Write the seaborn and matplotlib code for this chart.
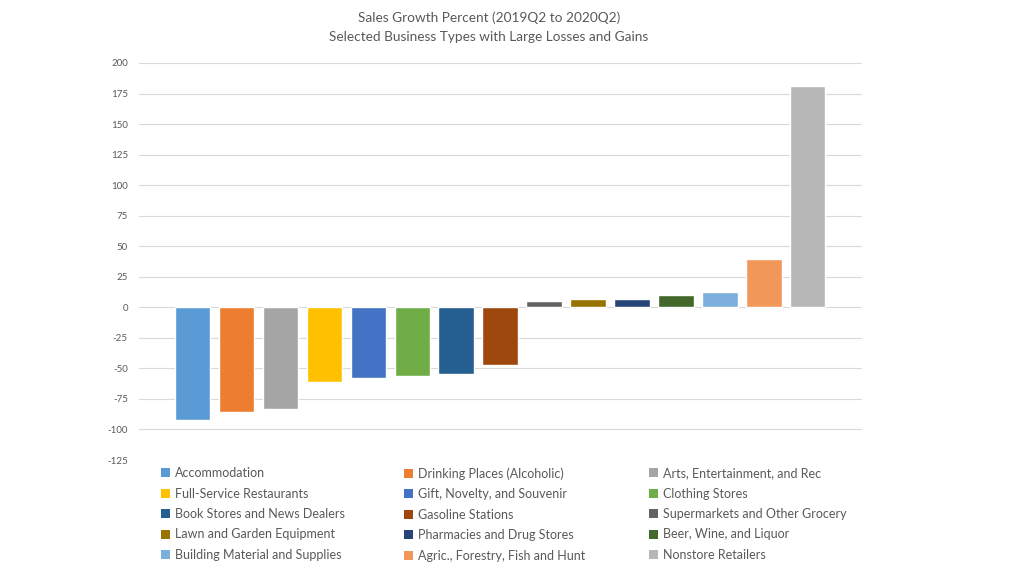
import matplotlib
matplotlib.use("Agg")
import matplotlib.pyplot as plt
from matplotlib.patches import Patch
import seaborn as sns
import pandas as pd

categories = [
    "Accommodation", "Drinking Places (Alcoholic)", "Arts, Entertainment, and Rec",
    "Full-Service Restaurants", "Gift, Novelty, and Souvenir", "Clothing Stores",
    "Book Stores and News Dealers", "Gasoline Stations", "Supermarkets and Other Grocery",
    "Lawn and Garden Equipment", "Pharmacies and Drug Stores", "Beer, Wine, and Liquor",
    "Building Material and Supplies", "Agric., Forestry, Fish and Hunt", "Nonstore Retailers",
]
growth = [-92, -86, -83, -61.5, -58, -56, -55, -47.5, 5, 7, 7, 10, 12.5, 39.5, 181]
colors = [
    "#5B9BD5", "#ED7D31", "#A5A5A5", "#FFC000", "#4472C4", "#70AD47",
    "#255E91", "#9E480E", "#636363", "#997300", "#264478", "#43682B",
    "#7CAFDD", "#F1975A", "#B7B7B7",
]
yticks = [-125, -100, -75, -50, -25, 0, 25, 50, 75, 100, 125, 150, 175, 200]

sns.set_theme(style="white")
plt.rcParams["font.family"] = ["Lato", "DejaVu Sans"]

df = pd.DataFrame({"cat": categories, "val": growth})

fig = plt.figure(figsize=(10.24, 5.76), dpi=100)
ax = fig.add_axes([139 / 1024, 1 - 460 / 576, (862 - 139) / 1024, (460 - 63) / 576])

sns.barplot(data=df, x="cat", y="val", hue="cat", palette=colors, dodge=False,
            order=categories, hue_order=categories, width=0.8, legend=False,
            ax=ax, saturation=1, zorder=3)

ax.set_ylim(-125, 200)
ax.set_xlim(-1.21, 15.23)
ax.set_yticks(yticks)
ax.set_yticklabels([str(t) for t in yticks], fontsize=7, color="#595959")
ax.set_xticks([])
ax.set_xlabel("")
ax.set_ylabel("")
ax.grid(axis="y", color="#D9D9D9", linewidth=0.8, zorder=0)
ax.set_axisbelow(True)
for s in ax.spines.values():
    s.set_visible(False)
ax.tick_params(axis="y", length=0, pad=8)

fig.text(489 / 1024, 1 - 18 / 576, "Sales Growth Percent (2019Q2 to 2020Q2)", ha="center",
         va="center", fontsize=9.8, color="#595959")
fig.text(489 / 1024, 1 - 37 / 576, "Selected Business Types with Large Losses and Gains",
         ha="center", va="center", fontsize=9.8, color="#595959")

col_x = [161, 404, 649]
for j in range(3):
    idx = [i * 3 + j for i in range(5)]
    handles = [Patch(facecolor=colors[k], edgecolor="none") for k in idx]
    labels = [categories[k] for k in idx]
    fig.legend(handles, labels, loc="upper left",
               bbox_to_anchor=(col_x[j] / 1024, 1 - 467 / 576),
               frameon=False, fontsize=9, handlelength=0.7, handleheight=0.7,
               handletextpad=0.45, labelspacing=0.68, borderpad=0, borderaxespad=0,
               labelcolor="#595959")

fig.savefig("out.png", dpi=100)
